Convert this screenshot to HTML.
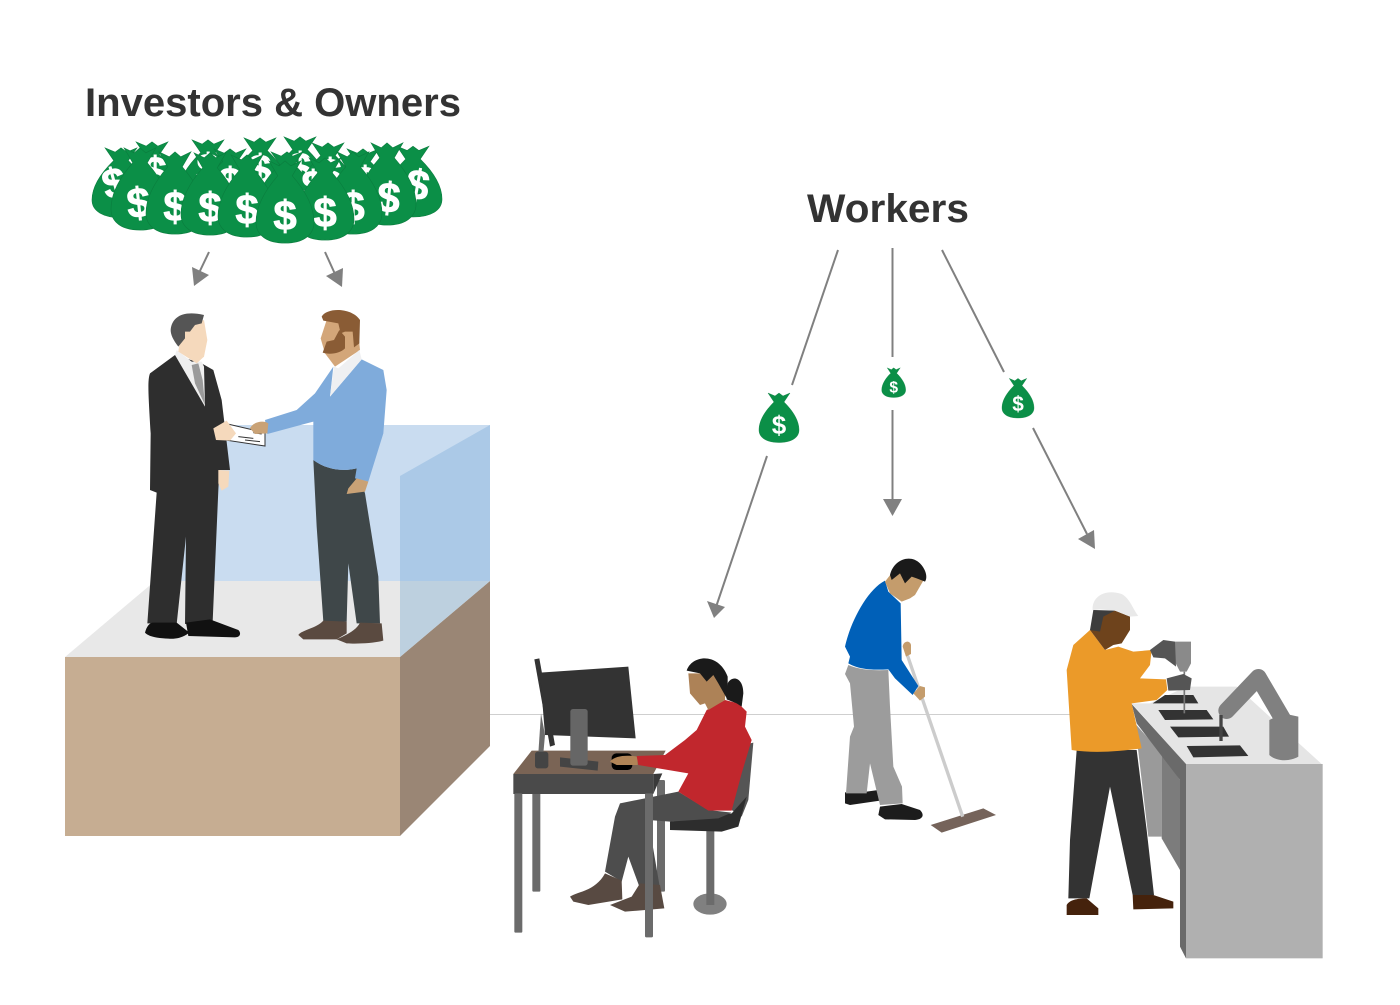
<!DOCTYPE html>
<html>
<head>
<meta charset="utf-8">
<style>
html,body{margin:0;padding:0;background:#fff}
svg{display:block}
.t{font-family:"Liberation Sans",sans-serif;font-weight:700;fill:#333;font-size:40px}
.d{font-family:"Liberation Sans",sans-serif;font-weight:700;fill:#fff;font-size:26px;text-anchor:middle}
.D{font-family:"Liberation Sans",sans-serif;font-weight:700;fill:#fff;stroke:#fff;stroke-width:.8;font-size:42px;text-anchor:middle}
.b{fill:#0b8f47;stroke:#0a7d3e;stroke-width:.4}
.a{stroke:#808080;stroke-width:2;fill:none}
</style>
</head>
<body>
<svg width="1400" height="1005" viewBox="0 0 1400 1005" xmlns="http://www.w3.org/2000/svg">
<defs>
<path id="bag" d="M-11 -32 L-4 -29 L0 -32 L4 -29 L11 -32 L5 -23 C12 -16 20 -6 20 5 C20 13 12 17.500 0 17.500 C-12 17.500 -20 13 -20 5 C-20 -6 -12 -16 -5 -23Z"/>
</defs>
<rect width="1400" height="1005" fill="#fff"/>

<text class="t" x="85" y="116" textLength="376" lengthAdjust="spacingAndGlyphs">Investors &amp; Owners</text>
<text class="t" x="807" y="222" textLength="162" lengthAdjust="spacingAndGlyphs">Workers</text>

<!-- top bags: back row -->
<use href="#bag" class="b" transform="translate(152,187) scale(1.45,1.41)"/><text class="D" x="155" y="186">$</text>
<use href="#bag" class="b" transform="translate(208,185) scale(1.45,1.41)"/><text class="D" x="208" y="183">$</text>
<use href="#bag" class="b" transform="translate(260,183) scale(1.45,1.41)"/><text class="D" x="260" y="184">$</text>
<use href="#bag" class="b" transform="translate(300,182) scale(1.45,1.41)"/><text class="D" x="300" y="182">$</text>
<use href="#bag" class="b" transform="translate(328,188) scale(1.45,1.41)"/><text class="D" x="330" y="188">$</text>
<use href="#bag" class="b" transform="translate(363,194) scale(1.45,1.41)"/><text class="D" x="365" y="196">$</text>
<use href="#bag" class="b" transform="translate(121,193) scale(1.45,1.41)"/><text class="D" transform="translate(118,197) rotate(-15)">$</text>
<use href="#bag" class="b" transform="translate(413,192) scale(1.45,1.43)"/><text class="D" transform="translate(415,199) rotate(10)">$</text>
<use href="#bag" class="b" transform="translate(230,194) scale(1.45,1.41)"/><text class="D" x="230" y="197">$</text>
<use href="#bag" class="b" transform="translate(287,197) scale(1.45,1.41)"/><text class="D" x="313" y="200">$</text>
<!-- top bags: front row -->
<use href="#bag" class="b" transform="translate(387,196) scale(1.45,1.66)"/><text class="D" transform="translate(387,212) rotate(6)">$</text>
<use href="#bag" class="b" transform="translate(353,205) scale(1.45,1.66)"/><text class="D" x="353" y="221">$</text>
<use href="#bag" class="b" transform="translate(140,201) scale(1.45,1.66)"/><text class="D" transform="translate(140,217) rotate(-6)">$</text>
<use href="#bag" class="b" transform="translate(175,205) scale(1.45,1.66)"/><text class="D" x="175" y="221">$</text>
<use href="#bag" class="b" transform="translate(210,206) scale(1.45,1.66)"/><text class="D" x="210" y="222">$</text>
<use href="#bag" class="b" transform="translate(247,208) scale(1.45,1.66)"/><text class="D" x="247" y="224">$</text>
<use href="#bag" class="b" transform="translate(325,211) scale(1.45,1.66)"/><text class="D" x="325" y="227">$</text>
<use href="#bag" class="b" transform="translate(285,214) scale(1.45,1.66)"/><text class="D" x="285" y="230">$</text>

<!-- arrows from investors -->
<line class="a" x1="209" y1="252" x2="198" y2="275"/>
<polygon points="192,267 209,275 194,286" fill="#808080"/>
<line class="a" x1="325" y1="252" x2="335" y2="274"/>
<polygon points="326,276 343,268 342,287" fill="#808080"/>

<!-- worker arrows -->
<line class="a" x1="838" y1="250" x2="792" y2="385"/>
<line class="a" x1="767" y1="456" x2="716" y2="607"/>
<polygon points="707,601 725,607 714,618" fill="#808080"/>
<line class="a" x1="892.500" y1="248" x2="892.500" y2="357"/>
<line class="a" x1="892.500" y1="410" x2="892.500" y2="502"/>
<polygon points="883,499 902,499 892.500,516" fill="#808080"/>
<line class="a" x1="942" y1="250" x2="1004" y2="372"/>
<line class="a" x1="1033" y1="428" x2="1087" y2="534"/>
<polygon points="1078,539 1094,530 1095,549" fill="#808080"/>

<!-- small bags -->
<g transform="translate(779,425)"><use href="#bag" class="b"/><text class="d" y="9">$</text></g>
<g transform="translate(893.700,387) scale(.6)"><use href="#bag" class="b"/><text class="d" y="9">$</text></g>
<g transform="translate(1018,404) scale(.8)"><use href="#bag" class="b"/><text class="d" y="9">$</text></g>

<!-- horizon -->
<line x1="490" y1="714.500" x2="1075" y2="714.500" stroke="#cfcfcf" stroke-width="1"/>

<!-- block -->
<polygon points="160,425 490,425 490,581 160,581" fill="#c9dcf0"/>
<polygon points="65,657 155,581 490,581 400,657" fill="#e8e8e8"/>
<rect x="65" y="657" width="335" height="179" fill="#c6ad92"/>
<polygon points="400,657 490,581 490,746 400,836" fill="#9a8675"/>
<polygon points="400,476 490,425 490,581 400,581" fill="#abc9e7"/>
<polygon points="400,581 490,581 400,657" fill="#bdd0df"/>

<!-- two men -->
<g transform="translate(130,300) scale(.33333)">
  <path fill="#2e2e2e" d="M135 165 L60 220 C52 240 55 280 62 400 L60 570 L80 578 L52 970 L140 972 L168 710 L165 972 L248 965 L265 570 L268 510 L300 510 L275 300 L250 210 L215 190 Z"/>
  <path fill="#efefef" d="M140 150 L135 165 L225 320 L222 200 L215 185 L185 185Z"/>
  <path fill="#9a9a9a" d="M185 195 L205 190 L218 240 L225 315 L195 250 Z"/>
  <path fill="#f5d9bc" d="M150 120 L145 155 L200 190 L222 170 L232 120 L222 60 L170 80 Z"/>
  <path fill="#555" d="M122 90 C125 50 160 30 222 45 L215 70 L195 75 L180 95 L165 95 L165 115 L145 140 C130 120 122 105 122 90Z"/>
  <path fill="#fff" stroke="#333" stroke-width="3" d="M285 370 L405 398 L405 438 L285 420Z"/>
  <path stroke="#333" stroke-width="3" d="M325 410 L370 415 M345 420 L390 425 M370 398 L395 402"/>
  <path fill="#f5d9bc" d="M250 385 L290 362 L318 400 L300 422 L258 420 Z M265 510 L298 512 L295 560 L275 572 L265 550Z"/>
  <path fill="#111" d="M45 998 C50 980 58 968 70 968 L140 968 L178 998 C160 1012 140 1018 115 1016 C85 1015 55 1010 45 998Z M168 968 L240 958 L325 990 C335 1000 330 1012 315 1012 L175 1008 Z"/>

  <path fill="#3f4749" d="M550 480 L560 680 L580 965 L650 965 L655 790 L680 970 L750 970 L745 830 L705 580 L680 505 C640 515 590 510 550 480Z"/>
  <path fill="#7fabdb" d="M610 200 L555 280 L500 330 L405 360 L412 402 L530 370 L550 365 L550 480 C590 510 640 515 680 505 L675 535 L715 545 L760 400 L770 270 L760 210 L695 178 L600 290 Z"/>
  <path fill="#d3a679" d="M572 115 L585 160 L615 200 L690 150 L680 50 L590 60Z"/>
  <path fill="#eff0f2" d="M612 200 L600 290 L695 178 L688 150 L625 205Z"/>
  <path fill="#8a5c35" d="M590 125 L612 120 L628 90 L645 110 L645 145 C630 160 600 165 578 158 Z"/>
  <path fill="#8a5c35" d="M575 50 C590 22 665 22 690 60 L688 130 L672 142 L668 95 L645 95 L632 100 L625 70 L580 62Z"/>
  <path fill="#c9a276" d="M360 385 C370 365 400 360 415 370 L412 400 L375 402Z M680 535 L715 545 L705 575 L650 582 L655 565 Z"/>
  <path fill="#5a4a40" d="M505 1005 C515 990 560 985 580 962 L650 965 L650 1000 L620 1018 L520 1018Z M620 1018 C650 1005 680 990 690 968 L755 970 L760 1022 C730 1030 680 1032 650 1030Z"/>
</g>

<!-- woman at desk -->
<g transform="translate(505,640) scale(.33333)">
  <ellipse cx="615" cy="792" rx="50" ry="32" fill="#808080"/>
  <rect x="604" y="570" width="24" height="225" fill="#6b6b6b"/>
  <rect x="82" y="450" width="24" height="305" rx="4" fill="#6b6b6b"/>
  <rect x="456" y="420" width="24" height="335" rx="4" fill="#6b6b6b"/>
  <path fill="#555" d="M715 315 L745 308 L730 480 L710 530 L680 510 Z"/>
  <path fill="#2d2d2d" d="M495 545 L600 530 L680 520 L725 470 L700 560 L650 575 L495 570Z"/>
  <path fill="#7a6455" d="M80 332 L482 332 L445 402 L25 402Z"/>
  <path fill="#4a4a4a" d="M25 402 L445 402 L445 462 L25 462Z"/>
  <path fill="#3a3a3a" d="M445 402 L472 400 L445 462Z"/>
  <path fill="#6b6b6b" d="M108 220 L120 285 L115 340 L100 340Z"/>
  <rect x="90" y="335" width="40" height="50" rx="8" fill="#444"/>
  <path fill="#333" d="M88 58 L103 55 L150 315 L135 320Z"/>
  <path fill="#333" d="M105 98 L370 80 L392 295 L120 285Z"/>
  <path fill="#444" d="M165 352 L280 365 L278 392 L165 380Z"/>
  <rect x="196" y="207" width="52" height="170" rx="8" fill="#666"/>
  <rect x="320" y="340" width="62" height="50" rx="14" fill="#000"/>
  <path fill="#b08457" d="M315 365 C330 345 370 345 398 350 L398 375 L335 375Z"/>
  <path fill="#4d4d4d" d="M345 490 L520 455 L610 510 L680 518 L640 535 L495 545 L430 540 L465 745 L405 745 L370 650 L350 725 L300 695 L330 530Z"/>
  <path fill="#584a42" d="M195 770 C215 755 270 755 300 700 L350 722 L352 778 L250 795 L205 785Z M315 795 L380 770 L405 730 L465 735 L478 805 L360 815Z"/>
  <path fill="#c1272d" d="M395 348 L480 345 L540 300 L575 270 L605 210 L660 180 L700 190 L725 215 L720 260 L740 300 L710 400 L680 512 L610 512 L520 455 L550 400 L400 375Z"/>
  <path fill="#ad8257" d="M550 100 L555 160 L585 195 L600 190 L610 210 L660 180 L660 100 Z"/>
  <path fill="#1a1a1a" d="M545 92 C560 45 640 35 668 110 L668 180 L640 130 L625 105 L605 125 L585 100Z"/>
  <path fill="#1a1a1a" d="M668 130 C680 105 715 110 715 160 L710 200 L695 190 L665 178Z"/>
  <rect x="28" y="460" width="24" height="418" rx="4" fill="#6b6b6b"/>
  <rect x="420" y="460" width="24" height="432" rx="4" fill="#6b6b6b"/>
</g>

<!-- man mopping -->
<g transform="translate(830,550) scale(.33333)">
  <path fill="#75635a" d="M302 825 L460 775 L498 795 L335 848Z"/>
  <line x1="232" y1="315" x2="398" y2="800" stroke="#ccc" stroke-width="10"/>
  <path fill="#1c1c1c" d="M45 727 L110 725 L145 720 L150 752 L60 765 L45 760Z M150 770 L215 762 L270 780 C285 795 278 808 255 810 L165 808 L145 795 Z"/>
  <path fill="#9c9c9c" d="M55 345 L45 372 L60 400 L72 530 L60 560 L48 730 L110 730 L120 640 L150 765 L218 760 L216 710 L190 650 L180 470 L175 360 C130 362 90 360 55 345Z"/>
  <path fill="#0060b8" d="M165 92 C110 120 60 220 45 290 L60 320 L55 340 C90 360 130 360 175 358 L195 385 L248 435 L265 408 L215 330 L212 160 L175 125Z"/>
  <path fill="#c49c6c" d="M165 95 L180 130 L215 155 L240 145 L255 135 L280 92 L240 60 L200 50 Z"/>
  <path fill="#1a1a1a" d="M180 75 C190 30 240 10 270 40 C285 55 295 80 285 95 L260 85 L245 80 L225 100 L210 70 L185 90Z"/>
  <path fill="#c49c6c" d="M218 290 C220 272 240 270 243 285 L243 312 L228 320 Z M250 430 L270 408 L285 412 L285 440 L270 452Z"/>
</g>

<!-- factory worker -->
<g transform="translate(1050,580) scale(.33333)">
  <path fill="#e5e5e5" d="M245 370 L300 370 L410 320 L560 320 L815 552 L408 552Z"/>
  <path fill="#9a9a9a" d="M255 430 L335 520 L335 770 L295 770Z"/>
  <path fill="#7c7c7c" d="M335 520 L390 600 L390 870 L335 775Z"/>
  <path fill="#6a6a6a" d="M245 372 L408 552 L408 1135 L390 1100 L390 600 L260 430 Z"/>
  <rect x="408" y="552" width="410" height="583" fill="#b0b0b0"/>
  <path fill="#333" d="M345 345 L430 345 L445 370 L308 370Z M325 390 L470 390 L490 418 L345 420Z M360 440 L520 440 L537 470 L385 472Z M410 498 L570 496 L595 528 L430 532Z"/>
  <path d="M530 392 L625 292 L700 420" stroke="#808080" stroke-width="50" stroke-linecap="round" stroke-linejoin="round" fill="none"/>
  <path fill="#808080" d="M658 420 L700 400 L745 410 L745 530 C720 545 680 545 658 525Z"/>
  <rect x="508" y="405" width="10" height="78" fill="#444"/>
  <path fill="#8a8a8a" d="M375 185 L423 185 L423 250 L410 275 L390 275 L372 240Z"/>
  <line x1="403" y1="275" x2="403" y2="400" stroke="#777" stroke-width="5"/>
  <path fill="#333" d="M80 510 L60 780 L55 955 L118 955 L180 620 L248 945 L312 945 L290 750 L260 510Z"/>
  <path fill="#45220c" d="M50 975 C60 955 100 955 110 955 L145 985 L145 1005 L50 1005Z M248 945 L310 945 L370 965 L370 985 L250 988Z"/>
  <path fill="#eb9a29" d="M120 150 L70 195 L50 270 L65 510 C130 520 200 515 275 505 L245 370 L320 360 L352 330 L348 298 L270 295 L300 255 L305 210 L250 215 L205 200 L165 210Z"/>
  <path fill="#6e431c" d="M150 105 L195 92 L240 110 L240 150 L215 190 L190 195 L165 210 L120 150 Z"/>
  <path fill="#3d3d3d" d="M130 90 L195 92 L160 110 L150 155 L120 150Z"/>
  <path fill="#e9e9e9" d="M128 90 C125 50 165 25 215 42 C240 55 250 90 265 108 L240 110 L195 92 L150 88Z"/>
  <path fill="#555" d="M300 210 L340 180 L375 185 L378 260 L345 235 L310 232Z M350 295 L400 282 L425 295 L420 330 L355 332Z"/>
</g>
</svg>
</body>
</html>
